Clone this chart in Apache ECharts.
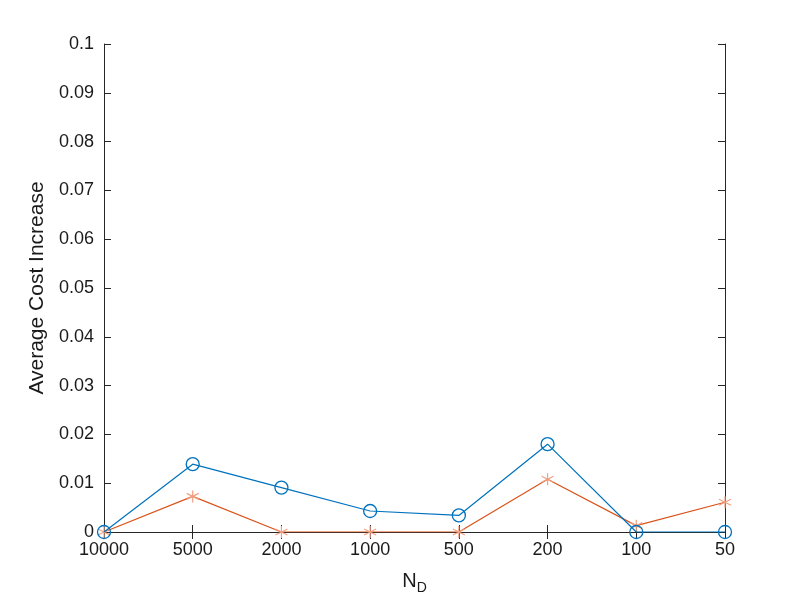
<!DOCTYPE html>
<html><head><meta charset="utf-8">
<script src="https://cdn.jsdelivr.net/npm/echarts@6/dist/echarts.min.js"></script>
<style>html,body{margin:0;padding:0;background:#fff}#c{width:800px;height:600px}</style>
</head><body><div id="c"></div>
<script>
const categories = ['10000','5000','2000','1000','500','200','100','50'];
const seriesBlue = [0, 0.0139, 0.0091, 0.0043, 0.0034, 0.018, 0, 0];
const seriesOrange = [0, 0.0073, 0, 0, 0, 0.0108, 0.0013, 0.0061];
const yTicks = [0, 0.1, 0.01];

const axColor = '#262626';
const txtColor = '#1a1a1a';
const font = 'Liberation Sans, Arial, sans-serif';
const chart = echarts.init(document.getElementById('c'));
const star = 'path://M0,-5L0,5M-4.33,-2.5L4.33,2.5M-4.33,2.5L4.33,-2.5';
chart.setOption({
  animation: false,
  backgroundColor: '#fff',
  grid: {left: 104, right: 75, top: 44, bottom: 68, containLabel: false, outerBoundsMode: 'none'},
  xAxis: [{
    type: 'category', data: categories, boundaryGap: false,
    axisLine: {lineStyle: {color: axColor, width: 1}},
    axisTick: {inside: true, length: 7, lineStyle: {color: axColor}},
    axisLabel: {color: txtColor, fontSize: 18, fontFamily: font, margin: 9},
    splitLine: {show: false},
    name: '{n|N}{s|D}', nameLocation: 'middle', nameGap: 35,
    nameTextStyle: {rich: {
      n: {fontSize: 20, fontFamily: font, color: txtColor},
      s: {fontSize: 14, fontFamily: font, color: txtColor, verticalAlign: 'bottom', padding: [14,0,0,0]}
    }}
  }, {
    type: 'category', data: categories, boundaryGap: false, position: 'top',
    axisLine: {lineStyle: {color: axColor}},
    axisTick: {inside: true, length: 7, lineStyle: {color: axColor}},
    axisLabel: {show: false}
  }],
  yAxis: [{
    type: 'value', min: yTicks[0], max: yTicks[1], interval: yTicks[2],
    axisLine: {show: true, lineStyle: {color: axColor}},
    axisTick: {show: true, inside: true, length: 7, lineStyle: {color: axColor}},
    axisLabel: {color: txtColor, fontSize: 18, fontFamily: font, margin: 10,
      formatter: v => String(+v.toFixed(2))},
    splitLine: {show: false},
    name: 'Average Cost Increase', nameLocation: 'middle', nameGap: 51,
    nameTextStyle: {fontSize: 21, fontFamily: font, color: txtColor}
  }, {
    type: 'value', min: yTicks[0], max: yTicks[1], interval: yTicks[2], position: 'right',
    axisLine: {show: true, lineStyle: {color: axColor}},
    axisTick: {show: true, inside: true, length: 7, lineStyle: {color: axColor}},
    axisLabel: {show: false}, splitLine: {show: false}
  }],
  series: [{
    type: 'line', data: seriesOrange, color: '#D95319',
    lineStyle: {width: 1.2, color: '#D95319'},
    symbol: star, symbolSize: 12,
    itemStyle: {color: 'none', borderColor: '#F0A080', borderWidth: 1.2},
    z: 3
  }, {
    type: 'line', data: seriesBlue, color: '#0072BD',
    lineStyle: {width: 1.2, color: '#0072BD'},
    symbol: 'circle', symbolSize: 13,
    itemStyle: {color: 'none', borderColor: '#0072BD', borderWidth: 1.3},
    z: 4
  }]
});
</script></body></html>
